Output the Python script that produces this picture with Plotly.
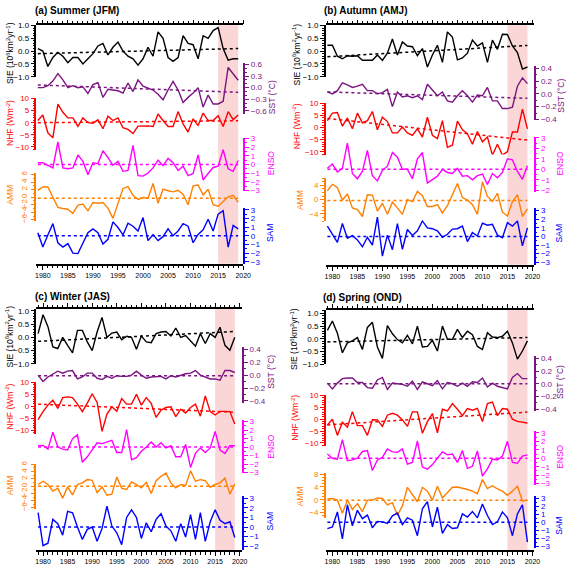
import plotly.graph_objects as go

# ─────────────────────────────────────────────
# DATA, 1979-2019
# ─────────────────────────────────────────────
years = list(range(1979, 2020))

# (a) Summer (JFM)
sie_jfm = [0.1, 0.0, -0.6, -0.25, -0.05, -0.2, -0.45, -0.25, -0.25, -0.5, -0.3, -0.1, 0.2, 0.3, -0.15, 0.15, 0.35, 0.0, -0.2, -0.3,
           -0.55, -0.3, 0.15, -0.2, 0.75, 0.5, -0.25, -0.4, -0.25, 0.6, 0.3, 0.25, -0.3, 0.6, 0.5, 0.8, 0.92, 0.1, -0.35, -0.3, -0.3]
sst_jfm = [0.0, 0.0, 0.05, 0.17, 0.36, 0.2, 0.0, 0.05, 0.0, 0.02, -0.15, 0.08, 0.13, -0.25, -0.04, -0.06, -0.08, -0.14, 0.12, -0.1,
           0.2, 0.04, -0.02, -0.06, -0.17, -0.31, -0.06, 0.16, -0.06, -0.38, -0.25, -0.14, 0.0, -0.5, -0.19, -0.42, -0.42, -0.35, 0.52, 0.34, 0.19]
nhf_jfm = [0.9, 3.2, -4.2, -6.3, 7.7, 4.3, 2.0, 2.0, -1.5, 2.0, 0.0, -0.2, 1.2, -2.5, 2.7, 0.9, 2.0, -2.1, -2.8, -4.5,
           -1.4, -1.3, -1.3, -1.6, 3.6, 0.9, -1.6, -1.6, 4.6, -0.5, -3.9, 1.6, -1.2, 4.0, 0.9, 0.9, 2.9, -1.6, 4.6, 1.3, 3.2]
enso_jfm = [0.2, 0.2, -0.1, -0.4, 2.6, -0.4, -0.5, -0.4, 1.1, 0.35, -1.2, 0.2, 0.1, 1.6, 0.8, -0.1, 0.35, -0.8, -0.7, 2.2,
            -1.3, -1.35, -1.0, -0.4, 0.5, -0.15, 0.7, 0.2, -0.7, -0.2, -1.3, -1.05, 1.1, -1.8, -1.05, -0.35, -0.2, 1.7, -0.5, -0.8, 0.45]
amm_jfm = [1.8, 2.7, 2.7, 0.1, -2.7, -3.0, -3.2, -4.3, -2.1, -1.8, -3.6, -1.4, -1.6, -1.4, -2.9, -5.6, -1.8, 2.3, 2.8, 0.5,
           -0.6, -0.1, -0.3, 3.6, -1.6, 2.1, 1.7, 1.4, 1.8, 0.8, -2.0, 3.0, 3.2, 0.6, 2.1, -2.0, -2.4, -1.1, 0.1, 0.5, -1.4]
sam_jfm = [0.35, -1.3, 0.1, 1.4, -0.8, -1.3, -0.9, -2.0, -2.05, -0.85, 0.35, 0.8, 0.35, -0.95, -0.4, 1.6, 0.95, 0.1, 1.45, 1.1,
           0.55, 2.1, -0.55, 0.15, -0.55, -0.1, 0.8, 0.0, 0.55, 1.4, 1.1, -0.8, 0.15, 0.7, 1.9, 0.55, 2.5, 2.9, -1.3, 1.2, 0.8]

# (b) Autumn (AMJ)
sie_amj = [0.23, 0.23, -0.2, -0.3, -0.18, -0.2, -0.18, -0.36, -0.36, -0.36, -0.15, -0.36, -0.08, 0.47, -0.15, 0.36, 0.2, 0.17, -0.18, 0.1,
           -0.62, -0.15, 0.23, -0.44, 0.75, 0.55, -0.34, -0.27, -0.08, 0.43, 0.2, 0.32, -0.44, 0.43, 0.07, 0.66, 0.65, 0.2, -0.06, -0.7, -0.62]
sst_amj = [0.03, 0.0, 0.05, 0.17, 0.14, 0.1, 0.12, 0.15, 0.05, 0.05, 0.0, 0.02, 0.07, -0.2, 0.03, -0.05, -0.03, -0.06, -0.03, -0.09,
           0.15, 0.06, -0.03, 0.03, -0.11, -0.13, -0.03, 0.05, -0.03, -0.13, -0.02, -0.03, 0.1, -0.11, -0.11, -0.23, -0.23, -0.21, 0.12, 0.25, 0.16]
nhf_amj = [2.9, 6.0, 6.3, 0.6, 4.0, -0.5, 6.0, 2.0, 2.9, 6.7, -0.9, 4.3, 2.5, -2.2, -2.2, 0.2, -2.2, -3.2, -0.5, -3.9,
           4.3, -3.2, -4.6, 2.9, -8.2, -7.3, 2.7, -0.9, -2.5, -6.9, -1.6, -5.9, -3.9, -11.4, -6.9, -11.4, -10.0, -1.8, -1.8, 7.7, -0.5]
enso_amj = [0.1, 0.5, -0.25, 0.1, 2.5, -0.4, -0.9, -0.2, 1.8, -0.6, -1.1, -0.1, 0.3, 1.6, 1.15, 0.0, 0.0, -0.9, 1.0, 1.6,
            -1.3, -1.0, -0.65, 0.0, -0.3, -0.4, 0.1, -0.65, -0.6, -1.0, -0.6, -0.45, -1.45, -0.4, -0.8, -0.3, 1.0, 0.9, -0.2, -0.95, 0.35]
amm_amj = [2.5, 4.3, 3.4, -0.1, 1.6, -2.3, -2.8, -4.7, 1.4, 1.3, -3.2, -1.0, -4.1, -0.7, -2.3, -4.1, 0.0, -0.55, 2.3, 1.1,
           -1.9, -1.9, -1.4, -3.7, -1.7, 1.6, 4.5, 0.6, -0.1, -1.4, -4.1, 5.0, 0.9, -0.5, 1.8, -3.5, -4.6, -0.5, 1.4, -4.7, -2.6]
sam_amj = [1.2, 0.2, -0.7, 1.5, -0.2, 0.1, -0.4, -1.2, -0.1, -1.0, 2.25, -2.3, 0.15, -1.55, 1.5, -1.5, 0.8, 0.1, 0.65, 1.8,
           1.0, 0.9, 0.65, -0.1, 0.25, 0.85, 0.9, 1.2, -0.6, 0.45, 0.05, 1.55, 1.3, 1.4, 0.15, -0.15, 1.6, 1.2, 1.8, -1.1, 1.0]

# (c) Winter (JAS)
sie_jas = [0.14, 0.85, 0.4, -0.36, -0.42, 0.0, -0.3, -0.58, 0.26, 0.26, -0.17, -0.5, 0.2, 0.75, 0.0, 0.16, 0.2, -0.09, 0.04, 0.0,
           -0.45, 0.05, -0.17, -0.2, 0.14, 0.2, 0.22, 0.05, 0.35, 0.0, 0.07, -0.14, -0.33, 0.14, -0.23, 0.14, 0.0, 0.38, -0.3, -0.48, 0.0]
sst_jas = [0.0, -0.1, -0.03, 0.02, 0.06, 0.03, 0.06, 0.07, -0.06, -0.03, 0.03, 0.03, -0.05, -0.07, -0.02, -0.05, -0.01, -0.02, -0.02, 0.0,
           0.06, 0.0, -0.05, -0.03, -0.03, -0.02, -0.06, -0.01, -0.03, 0.0, 0.02, 0.03, 0.07, 0.0, -0.03, -0.06, -0.06, -0.08, 0.07, 0.07, 0.04]
nhf_jas = [-5.5, -2.2, 0.5, 2.6, -0.9, 3.6, 3.9, 3.6, 0.9, -2.2, 1.3, 5.2, 1.6, -10.4, -3.2, -0.2, -2.1, 3.2, 0.9, 0.9,
           5.0, 0.5, 3.6, 1.2, -4.6, -1.6, -0.5, -0.2, -4.3, -1.2, -2.8, -0.5, 0.9, -4.1, 4.3, -2.2, -3.6, -2.1, -2.1, -2.2, -7.3]
enso_jas = [0.15, 0.2, -0.25, 1.75, 0.0, -0.25, -0.35, 1.0, 1.45, -1.8, -1.15, -0.35, 0.5, 0.4, 0.6, 0.8, -0.65, -0.65, 2.05, -1.5,
            -1.25, -0.5, 0.0, 0.6, 0.0, 0.5, -0.1, 0.15, -1.15, -1.15, 0.3, -2.4, -0.75, -0.1, -0.65, -0.1, 1.85, -0.35, -0.75, 0.15, 0.15]
amm_jas = [0.45, 1.35, 0.45, -1.35, -0.6, -3.3, -0.2, -2.4, 0.45, 0.9, 1.8, 1.6, -1.8, -0.2, -2.5, -2.2, 2.5, -0.6, -0.9, 1.15,
           0.45, -0.45, 1.05, -2.05, 1.5, 2.7, 3.6, 0.9, -0.45, 0.45, 0.2, 4.2, 1.35, 1.8, 1.5, -0.3, 0.45, 0.9, 2.2, -2.2, 0.6]
sam_jas = [1.5, -1.95, -1.7, 0.8, 0.35, -0.85, 1.65, 1.5, 0.0, -1.3, -0.25, 0.0, -1.5, -0.15, 2.2, 0.1, -0.6, -1.85, 1.0, 1.8,
           1.0, -1.2, 0.45, -0.5, 0.8, 1.4, 0.1, -0.4, -1.5, 0.35, -1.05, 1.3, -1.3, 1.5, -1.5, 0.55, 1.8, 0.7, 0.35, 0.55, -1.1]

# (d) Spring (OND)
sie_ond = [0.33, 0.7, 0.22, -0.55, -0.16, -0.08, 0.05, -0.42, 0.45, 0.65, -0.32, -0.77, 0.52, 0.2, -0.03, -0.16, 0.14, -0.2, 0.5, -0.32,
           -0.3, -0.06, -0.48, 0.5, -0.02, -0.02, 0.37, 0.05, 0.3, 0.16, -0.3, -0.42, 0.24, 0.07, 0.05, 0.1, 0.3, -0.16, -0.8, -0.48, -0.08]
sst_ond = [0.01, -0.08, 0.01, 0.08, 0.09, 0.09, 0.02, 0.02, -0.06, -0.07, 0.06, 0.1, -0.09, 0.01, 0.0, -0.01, -0.04, 0.04, -0.09, 0.03,
           0.0, -0.03, 0.05, -0.08, 0.02, 0.0, -0.04, 0.01, -0.04, 0.03, 0.02, 0.09, -0.05, 0.01, -0.04, -0.06, -0.08, 0.1, 0.16, 0.08, 0.08]
nhf_ond = [-2.4, 0.0, -6.8, -1.3, -3.4, 3.2, -2.7, -2.7, -6.8, -0.2, -0.3, -3.0, 1.7, 2.5, 1.7, -0.3, -3.0, 3.1, 3.1, -5.9,
           -1.0, 2.4, -5.7, 4.2, 3.5, 6.6, 4.2, 1.5, 4.5, 3.8, 4.6, -1.0, 6.6, 7.2, 1.5, 4.5, 4.2, 0.0, -0.9, -1.3, -1.6]
enso_ond = [0.5, 0.0, -0.1, 2.2, -0.3, -0.2, 0.0, 0.8, 0.9, -1.45, -0.2, 0.1, 1.1, 0.75, 0.7, 1.1, -0.7, -0.5, 2.05, -1.05,
            -1.3, -0.75, 0.0, 0.75, 0.4, 0.5, -0.5, 0.9, -1.2, -0.95, 0.85, -2.1, -1.25, -0.1, -0.2, 0.25, 2.0, -0.5, -0.6, 0.25, 0.4]
amm_ond = [0.3, 0.4, -0.1, -4.2, -0.1, -3.0, -1.2, -3.7, -0.1, -0.1, 0.6, 0.4, -1.6, -0.9, -4.8, -1.9, 3.9, 1.6, -0.6, 3.9,
           2.7, -0.1, 4.2, 0.6, 2.2, 3.9, 4.0, 3.7, 3.2, 2.7, 1.9, 6.3, 3.5, 4.4, 3.4, 2.7, 1.4, 2.7, 4.2, -0.4, -0.1]
sam_ond = [-0.8, -0.6, 1.3, -2.1, 2.2, -0.45, 1.5, 0.45, 0.9, -0.7, 0.1, 0.05, -0.15, 0.8, 1.15, -0.3, 0.55, 0.25, -1.7, 1.7,
           2.6, -0.6, 1.9, -1.4, -0.3, -0.8, -0.7, 1.05, 0.65, 1.35, 0.55, 2.3, 0.85, -0.3, 0.05, 1.3, 0.55, -1.7, 1.05, 2.2, -2.5]

# trend lines: [value in 1979, value in 2019] per panel (a, b, c, d)
trend_years = [1979, 2019]
sie_trend = [[-0.1, 0.1], [-0.22, 0.22], [-0.15, 0.22], [-0.12, 0.05]]
sst_trend = [[0.07, -0.12], [0.03, -0.07], [-0.01, -0.01], [0.0, 0.0]]
nhf_trend = [[0.0, 0.8], [3.8, -5.2], [0.9, -2.5], [-2.4, 3.0]]
enso_trend = [[0.0, 0.0], [0.0, 0.0], [0.0, 0.0], [0.0, 0.0]]
amm_trend = [[-0.3, -0.3], [-0.2, -0.2], [0.0, 0.0], [-0.1, -0.1]]
sam_trend = [[0.0, 0.0], [0.0, 0.0], [0.0, 0.0], [0.0, 0.0]]

shade_years = [2015, 2019]

panel_labels = ["(a) Summer (JFM)", "(b) Autumn (AMJ)", "(c) Winter (JAS)", "(d) Spring (OND)"]
axis_titles = ["SIE (10<sup>6</sup>km<sup>2</sup>yr<sup>-1</sup>)", "SST (°C)", "NHF (Wm<sup>-2</sup>)", "ENSO", "AMM", "SAM"]

# ─────────────────────────────────────────────
# STYLE / GEOMETRY (pixels of a 575x572 page)
# ─────────────────────────────────────────────
W, H = 575, 572
FONT = "Arial, Liberation Sans, sans-serif"
colors = ["black", "#7a1480", "#ff0000", "#ff00ff", "#ff8000", "#0000ff"]
sides = ["left", "right", "left", "right", "left", "right"]


def fx(px):
    return px / W


def fy(py):
    return 1 - py / H


def ax_key(letter, n):
    return f"{letter}axis" if n == 1 else f"{letter}axis{n}"


def ax_id(letter, n):
    return letter if n == 1 else f"{letter}{n}"


# axis spec: (line top px, line bottom px, range lo, range hi, dtick, minor dtick, tickformat, tickangle)
# title spec: (x px, y px) centre of each rotated axis title
panels = [
    dict(series=[sie_jfm, sst_jfm, nhf_jfm, enso_jfm, amm_jfm, sam_jfm],
         title_xy=(33, 7), xdom=(36, 246.3), xrange=(1978.72, 2020.05), frame=(21.7, 264),
         axes=[(21.7, 74, -1.005, 1.005, 0.5, 0.1, ".1f", 0),
               (60, 111.7, -0.676, 0.633, 0.3, 0.1, ".1f", 0),
               (96, 148, -11.2, 10.05, 5, 1, "d", 0),
               (136, 190, -3.08, 3.08, 1, 0.5, "d", 0),
               (172, 220.5, -6.3, 6.3, 2, 1, "d", -90),
               (207, 264, -3.23, 3.23, 1, 0.5, "d", 0)],
         titles=[(9, 50), (275, 95), (9, 121), (275, 162), (9, 194), (274, 233)]),
    dict(series=[sie_amj, sst_amj, nhf_amj, enso_amj, amm_amj, sam_amj],
         title_xy=(326, 7), xdom=(330, 541), xrange=(1978.69, 2020.22), frame=(21.7, 265),
         axes=[(21.7, 74, -1.005, 1.005, 0.5, 0.1, ".1f", 0),
               (63, 118, -0.411, 0.435, 0.2, 0.1, ".1f", 0),
               (101, 153, -11.2, 10.05, 5, 1, "d", 0),
               (135, 191, -2.16, 3.09, 1, 0.5, "d", 0),
               (177, 220.7, -6.03, 6.01, 4, 1, "d", 0),
               (207, 265, -3.31, 3.34, 1, 0.5, "d", 0)],
         titles=[(300, 51), (568, 93), (300, 124), (568, 162), (304, 199), (567, 233)]),
    dict(series=[sie_jas, sst_jas, nhf_jas, enso_jas, amm_jas, sam_jas],
         title_xy=(33, 297), xdom=(36, 245), xrange=(1978.66, 2020.5), frame=(310, 555),
         axes=[(310, 366, -1.01, 1.06, 0.5, 0.1, ".1f", 0),
               (348, 405, -0.426, 0.441, 0.2, 0.1, ".1f", 0),
               (384, 437, -11.55, 10.1, 5, 1, "d", 0),
               (423, 477, -3.12, 3.15, 1, 0.5, "d", 0),
               (467, 513, -6.27, 6.19, 2, 1, "d", -90),
               (500, 555, -2.44, 3.24, 1, 0.5, "d", 0)],
         titles=[(9, 338), (274, 374), (9, 409), (274, 450), (9, 489), (273, 526)]),
    dict(series=[sie_ond, sst_ond, nhf_ond, enso_ond, amm_ond, sam_ond],
         title_xy=(325, 298), xdom=(330, 541), xrange=(1978.69, 2020.22), frame=(311, 555),
         axes=[(311, 366, -1.0, 1.13, 0.5, 0.1, ".1f", 0),
               (358, 413, -0.42, 0.43, 0.2, 0.1, ".1f", 0),
               (397, 449, -11.24, 10.3, 5, 1, "d", 0),
               (434, 489, -3.2, 3.2, 1, 0.5, "d", 0),
               (477, 522, -5.6, 8.2, 4, 1, "d", 0),
               (500, 553, -3.29, 3.29, 1, 0.5, "d", 0)],
         titles=[(298, 340), (568, 384), (299, 420), (568, 460), (304, 500), (567, 530)]),
]
trends = [sie_trend, sst_trend, nhf_trend, enso_trend, amm_trend, sam_trend]

# ─────────────────────────────────────────────
# BUILD FIGURE
# ─────────────────────────────────────────────
fig = go.Figure()
layout = {}
shapes = []
annotations = []

for p, panel in enumerate(panels):
    xi = p + 1
    xname = ax_id("x", xi)
    frame_id = 7 * p + 1
    frame_name = ax_id("y", frame_id)

    # invisible frame axis: x axis sits at its bottom and mirrors to its top
    layout[ax_key("y", frame_id)] = dict(
        domain=[fy(panel["frame"][1]), fy(panel["frame"][0])], anchor=xname,
        range=[0, 1], showline=False, showticklabels=False, ticks="",
        showgrid=False, zeroline=False)
    # empty trace so that x + frame becomes the main subplot of the x axis
    fig.add_trace(go.Scatter(x=[None], y=[None], mode="lines", xaxis=xname, yaxis=frame_name,
                             showlegend=False, hoverinfo="skip"))

    layout[ax_key("x", xi)] = dict(
        domain=[fx(panel["xdom"][0]), fx(panel["xdom"][1])], range=list(panel["xrange"]),
        anchor=frame_name, showline=True, linecolor="black", linewidth=1.5,
        mirror="ticks", ticks="outside", ticklen=4, tickwidth=1.2, tickcolor="black",
        dtick=5, tick0=1980, tickfont=dict(family=FONT, size=7, color="black"),
        showgrid=False, zeroline=False,
        minor=dict(dtick=1, ticks="outside", ticklen=2.5, tickwidth=1, tickcolor="black", showgrid=False))

    # 2015-2019 shading
    shapes.append(dict(type="rect", xref=xname, yref="paper",
                       x0=shade_years[0], x1=shade_years[1],
                       y0=fy(panel["frame"][1]), y1=fy(panel["frame"][0]),
                       fillcolor="rgba(245,165,165,0.45)", line=dict(width=0), layer="below"))

    annotations.append(dict(text=f"<b>{panel_labels[p]}</b>", xref="paper", yref="paper",
                            x=fx(panel["title_xy"][0]), y=fy(panel["title_xy"][1]),
                            xanchor="left", yanchor="middle", showarrow=False,
                            font=dict(family=FONT, size=10, color="black")))

    for k in range(6):
        yid = 7 * p + 2 + k
        top, bot, lo, hi, dt, mdt, fmt, ang = panel["axes"][k]
        c = colors[k]
        layout[ax_key("y", yid)] = dict(
            domain=[fy(bot), fy(top)], range=[lo, hi], anchor=xname, side=sides[k],
            showline=True, linecolor=c, linewidth=1.5,
            ticks="outside", ticklen=4, tickwidth=1.2, tickcolor=c,
            dtick=dt, tick0=0, tickformat=fmt, tickangle=ang,
            tickfont=dict(family=FONT, size=8, color=c),
            showgrid=False, zeroline=False,
            minor=dict(dtick=mdt, ticks="outside", ticklen=2, tickwidth=1, tickcolor=c, showgrid=False))

        tx, ty = panel["titles"][k]
        annotations.append(dict(text=axis_titles[k], xref="paper", yref="paper",
                                x=fx(tx), y=fy(ty), xanchor="center", yanchor="middle",
                                textangle=-90, showarrow=False,
                                font=dict(family=FONT, size=8.5, color=c)))

        fig.add_trace(go.Scatter(
            x=years, y=panel["series"][k], mode="lines",
            line=dict(color=c, width=1.4),
            xaxis=xname, yaxis=ax_id("y", yid), showlegend=False, hoverinfo="skip"))
        fig.add_trace(go.Scatter(
            x=trend_years, y=trends[k][p], mode="lines",
            line=dict(color=c, width=1.5, dash="dot"),
            xaxis=xname, yaxis=ax_id("y", yid), showlegend=False, hoverinfo="skip"))

fig.update_layout(
    width=W, height=H,
    margin=dict(l=0, r=0, t=0, b=0),
    paper_bgcolor="white", plot_bgcolor="rgba(0,0,0,0)",
    showlegend=False,
    font=dict(family=FONT, size=8),
    shapes=shapes, annotations=annotations,
    **layout)

fig.write_html("out.html", config={"displayModeBar": False},
               post_script="document.body.style.margin='0';")
